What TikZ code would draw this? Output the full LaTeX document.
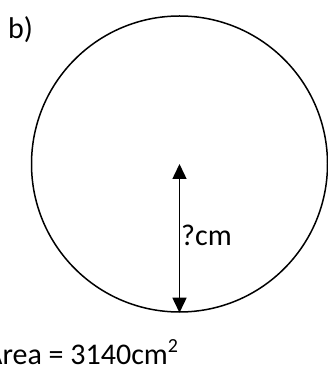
\documentclass[tikz,border=0pt]{standalone}
\usepackage{fontspec}
\setmainfont{Carlito}
\usetikzlibrary{positioning,arrows.meta}

\begin{document}
\begin{tikzpicture}[
  x=1pt, y=1pt,
  disc/.style={draw, circle, line width=1.5pt, minimum size=296pt, inner sep=0pt},
  radius arrow/.style={{Triangle[width=14pt,length=15pt]}-{Triangle[width=14pt,length=15pt]}, line width=1.5pt},
  label text/.style={inner sep=0pt, font=\fontsize{30}{36}\selectfont}
]
\useasboundingbox (0,0) rectangle (328,367);
\node[disc] (circ) at (179.5,203) {};
\node[label text, anchor=base west] (part) at (8,328) {b)};
\node[label text, anchor=base west] (len) at (181,121) {?cm};
\node[label text, anchor=base west] (area) at (-15,2) {Area = 3140cm\raisebox{12pt}{\fontsize{20}{24}\selectfont 2}};

\draw[radius arrow] (circ.center) -- (circ.south);
\end{tikzpicture}
\end{document}
